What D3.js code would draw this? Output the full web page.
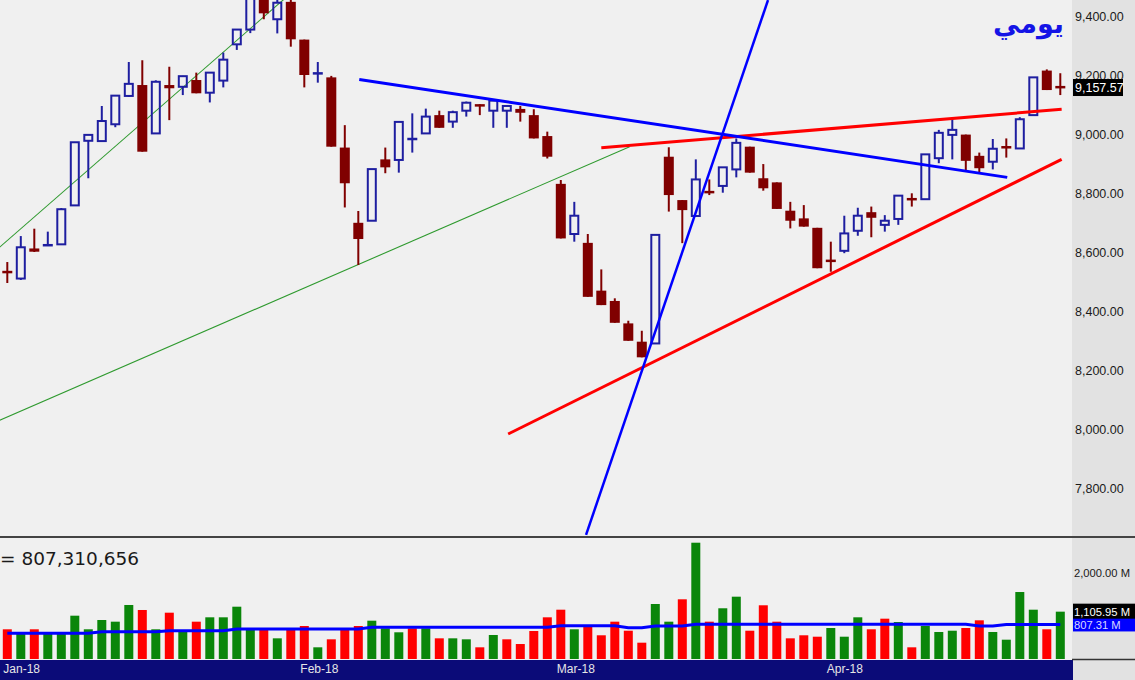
<!DOCTYPE html>
<html><head><meta charset="utf-8">
<script src="https://cdn.jsdelivr.net/npm/d3@7"></script>
<style>html,body{margin:0;padding:0;background:#f0f0f0;overflow:hidden}</style>
</head><body><svg id="c" width="1135" height="680"></svg>
<script>
// ---------------- DATA ----------------
const opens  = [8534,8510,8612,8620,8626,8758,8977,8976,9033,9129,9166,9002,9166,9160,9183,9140,9181,9304,9354,9470,
                9389,9448,9320,9204,9192,8954,8699,8706,8914,8912,8981,9002,9064,9042,9079,9101,9079,9079,9085,9064,
                8993,8831,8661,8631,8469,8434,8358,8296,8290,8923,8776,8722,8807,8824,8880,8957,8850,8836,8740,8714,
                8682,8572,8604,8672,8735,8692,8712,8781,8779,8918,8997,8998,8926,8906,8957,8951,9064,9215,9160];
const highs  = [8566,8654,8679,8669,8749,8973,8997,9095,9130,9244,9250,9182,9228,9197,9208,9208,9276,9354,9480,9490,
                9470,9470,9320,9244,9197,9030,8739,8881,8954,9043,9070,9086,9079,9079,9110,9101,9118,9095,9095,9084,
                9008,8844,8770,8661,8541,8443,8367,8333,8658,8955,8776,8914,8846,8887,8985,8957,8898,8836,8770,8759,
                8682,8635,8723,8750,8754,8725,8791,8799,8931,9014,9050,8998,8937,8983,8985,9057,9192,9219,9206];
const lows   = [8495,8505,8600,8620,8626,8756,8850,8976,9023,9126,8940,9002,9047,9132,9138,9107,9158,9285,9342,9389,
                9341,9296,9158,9174,8957,8751,8556,8706,8867,8869,8937,9002,9021,9021,9059,9064,9021,9021,9042,8985,
                8917,8646,8635,8448,8420,8360,8299,8243,8290,8737,8630,8722,8793,8801,8853,8869,8808,8746,8680,8686,
                8545,8533,8596,8655,8650,8669,8692,8754,8779,8901,8914,8878,8867,8880,8920,8951,9064,9149,9132];
const closes = [8530,8616,8601,8626,8745,8972,8997,9044,9130,9170,8940,9177,9155,9196,9138,9208,9252,9354,9470,9409,
                9445,9321,9200,9207,8957,8833,8644,8881,8887,9041,8985,9059,9021,9074,9106,9093,9113,9095,9072,8985,
                8923,8646,8723,8448,8420,8360,8299,8243,8658,8793,8742,8846,8799,8887,8970,8869,8816,8746,8706,8686,
                8545,8568,8663,8723,8716,8706,8791,8777,8931,9004,9014,8909,8884,8950,8953,9050,9192,9149,9157.57];
// volume, millions
const volumes = [694,600,694,600,600,1012,694,911,872,1262,1145,694,1082,638,872,974,974,1222,694,678,
                 483,678,771,273,460,678,771,895,717,624,717,717,483,483,460,273,561,460,350,654,
                 974,1152,694,755,554,872,661,381,1285,872,1395,2717,872,1185,1456,661,1255,872,483,554,
                 521,724,521,974,694,942,864,273,771,631,661,724,904,631,451,1565,1152,694,1106];
// volume moving average, millions
const volumeMA = [600,600,600,600,600,600,600,638,638,638,638,638,661,661,661,661,661,700,700,700,
                  700,700,700,700,700,700,700,740,740,740,740,740,740,740,740,740,740,740,740,740,
                  740,778,778,778,778,778,731,731,771,771,771,810,810,810,810,810,810,810,810,810,
                  810,810,810,810,810,810,810,810,810,810,810,810,771,771,807,807,807,807,807];
const priceTicks = [7800,8000,8200,8400,8600,8800,9000,9200,9400];
const volumeTicks = [2000];
const monthLabels = ["Jan-18","Feb-18","Mar-18","Apr-18"];
const monthStartIndex = [0,22,41,61];
const lastPrice = 9157.57;
const lastVolume = 1105.95;
const lastVolumeMA = 807.31;
const volumeMAText = "= 807,310,656";
const titleText = "يومي";
// trend lines: [barIndex, price] endpoints
const greenLine1 = [[-0.6, 8615],[21.5, 9497]];
const greenLine2 = [[-0.6, 8029],[46.1, 8957]];
const redResistance = [[44.0, 8953],[78.1, 9084]];
const redSupport = [[37.1, 7983],[78.1, 8914]];
const blueDown = [[26.07, 9185],[74.07, 8853]];
const blueSteep = [[42.87, 7641],[56.35, 9454]];

// ---------------- LAYOUT ----------------
const svg = d3.select('#c');
const plotRight = 1072, priceBottom = 536, volTop = 538, volBottom = 659;
const x = d3.scaleLinear().domain([0, 78]).range([7.3, 1060.3]);
const y = d3.scaleLinear().domain([7800, 9400]).range([488, 16]);
const yv = d3.scaleLinear().domain([0, 2000]).range([659, 573.4]);

const defs = svg.append('defs');
defs.append('clipPath').attr('id','cp').append('rect').attr('x',0).attr('y',0).attr('width',plotRight).attr('height',priceBottom);
defs.append('clipPath').attr('id','cv').append('rect').attr('x',0).attr('y',volTop).attr('width',plotRight).attr('height',volBottom-volTop);

svg.append('rect').attr('width',1135).attr('height',680).attr('fill','#f0f0f0');
svg.append('rect').attr('x',plotRight).attr('y',0).attr('width',1135-plotRight).attr('height',680).attr('fill','#e2e2e2');
svg.append('rect').attr('x',0).attr('y',660).attr('width',plotRight+1).attr('height',20).attr('fill','#0b0b78');

const candleUp = '#1e1ea0', candleDown = '#800000';
const pg = svg.append('g').attr('clip-path','url(#cp)');

const lineGen = d3.line().x(d => x(d[0])).y(d => y(d[1]));
pg.append('path').attr('d', lineGen(greenLine1)).attr('stroke','#2f9a2f').attr('stroke-width',1.1).attr('fill','none');
pg.append('path').attr('d', lineGen(greenLine2)).attr('stroke','#2f9a2f').attr('stroke-width',1.1).attr('fill','none');

const idx = d3.range(opens.length);
const bw = 10;
idx.forEach(i => {
  const o = opens[i], c = closes[i], h = highs[i], l = lows[i];
  const up = c >= o;
  const col = up ? candleUp : candleDown;
  const cx = x(i);
  const top = y(Math.max(o,c)), bot = y(Math.min(o,c));
  const g = pg.append('g');
  if (up) {
    g.append('line').attr('x1',cx).attr('x2',cx).attr('y1',y(h)).attr('y2',top).attr('stroke',col).attr('stroke-width',2);
    g.append('line').attr('x1',cx).attr('x2',cx).attr('y1',bot).attr('y2',y(l)).attr('stroke',col).attr('stroke-width',2);
    const hh = Math.max(bot - top, 0);
    if (hh < 3) {
      g.append('rect').attr('x',cx-bw/2).attr('y',(top+bot)/2-1.25).attr('width',bw).attr('height',2.5).attr('fill',col);
    } else {
      g.append('rect').attr('x',cx-bw/2+1).attr('y',top).attr('width',bw-2).attr('height',hh)
        .attr('fill','none').attr('stroke',col).attr('stroke-width',2);
    }
  } else {
    g.append('line').attr('x1',cx).attr('x2',cx).attr('y1',y(h)).attr('y2',y(l)).attr('stroke',col).attr('stroke-width',2);
    const hh = Math.max(bot - top, 2.5);
    g.append('rect').attr('x',cx-bw/2).attr('y',(top+bot)/2-hh/2).attr('width',bw).attr('height',hh).attr('fill',col);
  }
});

pg.append('path').attr('d', lineGen(redResistance)).attr('stroke','#ff0000').attr('stroke-width',3).attr('fill','none');
pg.append('path').attr('d', lineGen(redSupport)).attr('stroke','#ff0000').attr('stroke-width',3).attr('fill','none');
pg.append('path').attr('d', lineGen(blueDown)).attr('stroke','#0000ff').attr('stroke-width',3).attr('fill','none');
pg.append('path').attr('d', lineGen(blueSteep)).attr('stroke','#0000ff').attr('stroke-width',2.5).attr('fill','none');

// title
svg.append('text').attr('x',1064).attr('y',33).attr('text-anchor','end')
  .attr('font-family','DejaVu Sans, sans-serif').attr('font-weight','bold').attr('font-size',27)
  .attr('fill','#1414e6').text(titleText);

// price axis
const ya = svg.append('g').attr('transform',`translate(${plotRight},0)`)
  .call(d3.axisRight(y).tickValues(priceTicks).tickFormat(d3.format(',.2f')).tickSize(0).tickPadding(3));
ya.select('.domain').remove();
ya.selectAll('text').attr('font-family','Liberation Sans, Arial, sans-serif').attr('font-size',12.5).attr('fill','#1a1a1a');

svg.append('rect').attr('x',plotRight+1).attr('y',y(lastPrice)-8.5).attr('width',50).attr('height',17).attr('fill','#000');
svg.append('text').attr('x',plotRight+3).attr('y',y(lastPrice)).attr('dy','0.35em')
  .attr('font-family','Liberation Sans, Arial, sans-serif').attr('font-size',12.5).attr('fill','#fff')
  .text(d3.format(',.2f')(lastPrice));

// separators
svg.append('line').attr('x1',0).attr('x2',1135).attr('y1',537).attr('y2',537).attr('stroke','#444').attr('stroke-width',2);
svg.append('line').attr('x1',plotRight).attr('x2',1135).attr('y1',659.5).attr('y2',659.5).attr('stroke','#333').attr('stroke-width',1.5);

// volume bars
const vg = svg.append('g').attr('clip-path','url(#cv)');
vg.selectAll('rect.v').data(idx).join('rect').attr('class','v')
  .attr('x', i => x(i)-4.5).attr('width',9)
  .attr('y', i => yv(volumes[i])).attr('height', i => yv(0)-yv(volumes[i]))
  .attr('fill', i => {
    const up = i === 0 ? closes[0] >= opens[0] : closes[i] >= closes[i-1];
    return up ? '#0a860a' : '#ff0000';
  });
vg.append('path').datum(idx)
  .attr('d', d3.line().x(i => x(i)).y(i => yv(volumeMA[i])))
  .attr('stroke','#0000ff').attr('stroke-width',3).attr('fill','none');

svg.append('text').attr('x',0).attr('y',565)
  .attr('font-family','DejaVu Sans, sans-serif').attr('font-size',18.5).attr('fill','#1a1a1a')
  .text(volumeMAText);

// volume axis
const va = svg.append('g').attr('transform',`translate(${plotRight},0)`)
  .call(d3.axisRight(yv).tickValues(volumeTicks).tickFormat(d => d3.format(',.2f')(d)+' M').tickSize(0).tickPadding(2));
va.select('.domain').remove();
va.selectAll('text').attr('font-family','Liberation Sans, Arial, sans-serif').attr('font-size',11.2).attr('fill','#1a1a1a');

svg.append('rect').attr('x',plotRight+1).attr('y',yv(lastVolumeMA)-7).attr('width',62).attr('height',14).attr('fill','#0000ff');
svg.append('text').attr('x',plotRight+2).attr('y',yv(lastVolumeMA)).attr('dy','0.38em')
  .attr('font-family','Liberation Sans, Arial, sans-serif').attr('font-size',11.2).attr('fill','#d8d8ff')
  .text(d3.format(',.2f')(lastVolumeMA)+' M');
svg.append('rect').attr('x',plotRight+1).attr('y',yv(lastVolume)-8).attr('width',62).attr('height',15).attr('fill','#000');
svg.append('text').attr('x',plotRight+2).attr('y',yv(lastVolume)).attr('dy','0.35em')
  .attr('font-family','Liberation Sans, Arial, sans-serif').attr('font-size',11.2).attr('fill','#fff')
  .text(d3.format(',.2f')(lastVolume)+' M');

// date axis
const xa = svg.append('g').attr('transform','translate(0,660)')
  .call(d3.axisBottom(x).tickValues(monthStartIndex).tickFormat((d,k) => monthLabels[k]).tickSize(0).tickPadding(4));
xa.select('.domain').remove();
xa.selectAll('text').attr('text-anchor','start').attr('dx',-4.5)
  .attr('font-family','Liberation Sans, Arial, sans-serif').attr('font-size',12).attr('fill','#e6e6e6');
</script>
</body></html>
